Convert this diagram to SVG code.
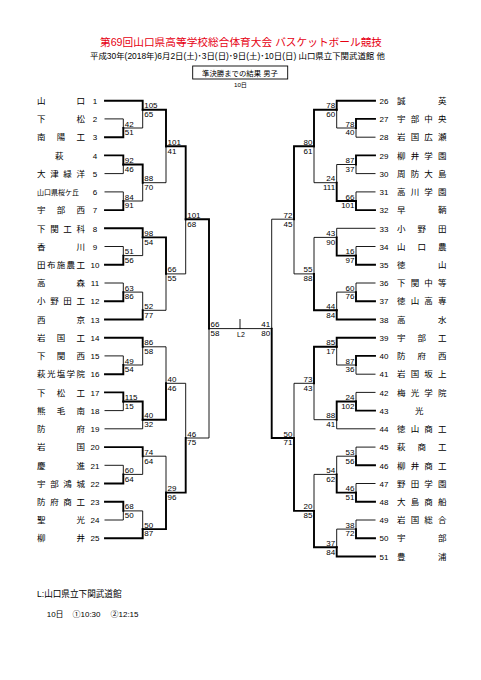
<svg xmlns="http://www.w3.org/2000/svg" width="481" height="680" viewBox="0 0 481 680">
<style>
.n{fill:none;stroke:#000;stroke-width:0.9;stroke-linecap:square}
.k{fill:none;stroke:#000;stroke-width:1.9;stroke-linecap:square}
text{font-family:"Liberation Sans","Noto Sans CJK JP",sans-serif;fill:#000}
.nm{font-size:8.5px}
.no{font-size:8px;text-anchor:middle}
.sl{font-size:8px}
.sr{font-size:8px;text-anchor:end}
.t{font-size:10.7px;fill:#e60012;text-anchor:middle}
</style>
<rect width="481" height="680" fill="#fff"/>
<g id="header">
<text class="t" x="241" y="46">第69回山口県高等学校総合体育大会 バスケットボール競技</text>
<text x="237.5" y="59" font-size="8.3" text-anchor="middle" textLength="295" lengthAdjust="spacingAndGlyphs">平成30年(2018年)6月2日(土)･3日(日)･9日(土)･10日(日) 山口県立下関武道館 他</text>
<rect x="192.7" y="66" width="95" height="13" fill="none" stroke="#000" stroke-width="0.9"/>
<text x="240" y="75.7" font-size="7.4" text-anchor="middle">準決勝までの結果 男子</text>
<text x="240.5" y="87" font-size="6.2" text-anchor="middle">10日</text>
</g>
<g id="teams-left">
<g id="t1"><text class="nm" x="37 76.5" y="103.9">山口</text><text class="no" x="95" y="103.9">1</text></g>
<g id="t2"><text class="nm" x="37 76.5" y="122.1">下松</text><text class="no" x="95" y="122.1">2</text></g>
<g id="t3"><text class="nm" x="37 56.75 76.5" y="140.4">南陽工</text><text class="no" x="95" y="140.4">3</text></g>
<g id="t4"><text class="nm" x="55" y="158.6">萩</text><text class="no" x="95" y="158.6">4</text></g>
<g id="t5"><text class="nm" x="37 50.2 63.3 76.5" y="176.8">大津緑洋</text><text class="no" x="95" y="176.8">5</text></g>
<g id="t6"><text x="37" y="194.6" font-size="7">山口県桜ケ丘</text><text class="no" x="95" y="195.1">6</text></g>
<g id="t7"><text class="nm" x="37 56.75 76.5" y="213.3">宇部西</text><text class="no" x="95" y="213.3">7</text></g>
<g id="t8"><text class="nm" x="37 50.2 63.3 76.5" y="231.5">下関工科</text><text class="no" x="95" y="231.5">8</text></g>
<g id="t9"><text class="nm" x="37 76.5" y="249.7">香川</text><text class="no" x="95" y="249.7">9</text></g>
<g id="t10"><text class="nm" x="37 46.9 56.75 66.6 76.5" y="268">田布施農工</text><text class="no" x="95" y="268">10</text></g>
<g id="t11"><text class="nm" x="37 76.5" y="286.2">高森</text><text class="no" x="95" y="286.2">11</text></g>
<g id="t12"><text class="nm" x="37 50.2 63.3 76.5" y="304.4">小野田工</text><text class="no" x="95" y="304.4">12</text></g>
<g id="t13"><text class="nm" x="37 76.5" y="322.7">西京</text><text class="no" x="95" y="322.7">13</text></g>
<g id="t14"><text class="nm" x="37 56.75 76.5" y="340.9">岩国工</text><text class="no" x="95" y="340.9">14</text></g>
<g id="t15"><text class="nm" x="37 56.75 76.5" y="359.1">下関西</text><text class="no" x="95" y="359.1">15</text></g>
<g id="t16"><text class="nm" x="37 46.9 56.75 66.6 76.5" y="377.4">萩光塩学院</text><text class="no" x="95" y="377.4">16</text></g>
<g id="t17"><text class="nm" x="37 56.75 76.5" y="395.6">下松工</text><text class="no" x="95" y="395.6">17</text></g>
<g id="t18"><text class="nm" x="37 56.75 76.5" y="413.8">熊毛南</text><text class="no" x="95" y="413.8">18</text></g>
<g id="t19"><text class="nm" x="37 76.5" y="432">防府</text><text class="no" x="95" y="432">19</text></g>
<g id="t20"><text class="nm" x="37 76.5" y="450.3">岩国</text><text class="no" x="95" y="450.3">20</text></g>
<g id="t21"><text class="nm" x="37 76.5" y="468.5">慶進</text><text class="no" x="95" y="468.5">21</text></g>
<g id="t22"><text class="nm" x="37 50.2 63.3 76.5" y="486.7">宇部鴻城</text><text class="no" x="95" y="486.7">22</text></g>
<g id="t23"><text class="nm" x="37 50.2 63.3 76.5" y="505">防府商工</text><text class="no" x="95" y="505">23</text></g>
<g id="t24"><text class="nm" x="37 76.5" y="523.2">聖光</text><text class="no" x="95" y="523.2">24</text></g>
<g id="t25"><text class="nm" x="37 76.5" y="541.4">柳井</text><text class="no" x="95" y="541.4">25</text></g>
</g>
<g id="teams-right">
<g id="t26"><text class="no" x="384" y="103.9">26</text><text class="nm" x="397 438" y="103.9">誠英</text></g>
<g id="t27"><text class="no" x="384" y="122.1">27</text><text class="nm" x="397 410.7 424.3 438" y="122.1">宇部中央</text></g>
<g id="t28"><text class="no" x="384" y="140.4">28</text><text class="nm" x="397 410.7 424.3 438" y="140.4">岩国広瀬</text></g>
<g id="t29"><text class="no" x="384" y="158.6">29</text><text class="nm" x="397 410.7 424.3 438" y="158.6">柳井学園</text></g>
<g id="t30"><text class="no" x="384" y="176.8">30</text><text class="nm" x="397 410.7 424.3 438" y="176.8">周防大島</text></g>
<g id="t31"><text class="no" x="384" y="195.1">31</text><text class="nm" x="397 410.7 424.3 438" y="195.1">高川学園</text></g>
<g id="t32"><text class="no" x="384" y="213.3">32</text><text class="nm" x="397 438" y="213.3">早鞆</text></g>
<g id="t33"><text class="no" x="384" y="231.5">33</text><text class="nm" x="397 417.5 438" y="231.5">小野田</text></g>
<g id="t34"><text class="no" x="384" y="249.7">34</text><text class="nm" x="397 417.5 438" y="249.7">山口農</text></g>
<g id="t35"><text class="no" x="384" y="268">35</text><text class="nm" x="397 438" y="268">徳山</text></g>
<g id="t36"><text class="no" x="384" y="286.2">36</text><text class="nm" x="397 410.7 424.3 438" y="286.2">下関中等</text></g>
<g id="t37"><text class="no" x="384" y="304.4">37</text><text class="nm" x="397 410.7 424.3 438" y="304.4">徳山高専</text></g>
<g id="t38"><text class="no" x="384" y="322.7">38</text><text class="nm" x="397 438" y="322.7">高水</text></g>
<g id="t39"><text class="no" x="384" y="340.9">39</text><text class="nm" x="397 417.5 438" y="340.9">宇部工</text></g>
<g id="t40"><text class="no" x="384" y="359.1">40</text><text class="nm" x="397 417.5 438" y="359.1">防府西</text></g>
<g id="t41"><text class="no" x="384" y="377.4">41</text><text class="nm" x="397 410.7 424.3 438" y="377.4">岩国坂上</text></g>
<g id="t42"><text class="no" x="384" y="395.6">42</text><text class="nm" x="397 410.7 424.3 438" y="395.6">梅光学院</text></g>
<g id="t43"><text class="no" x="384" y="413.8">43</text><text class="nm" x="415" y="413.8">光</text></g>
<g id="t44"><text class="no" x="384" y="432">44</text><text class="nm" x="397 410.7 424.3 438" y="432">徳山商工</text></g>
<g id="t45"><text class="no" x="384" y="450.3">45</text><text class="nm" x="397 417.5 438" y="450.3">萩商工</text></g>
<g id="t46"><text class="no" x="384" y="468.5">46</text><text class="nm" x="397 410.7 424.3 438" y="468.5">柳井商工</text></g>
<g id="t47"><text class="no" x="384" y="486.7">47</text><text class="nm" x="397 410.7 424.3 438" y="486.7">野田学園</text></g>
<g id="t48"><text class="no" x="384" y="505">48</text><text class="nm" x="397 410.7 424.3 438" y="505">大島商船</text></g>
<g id="t49"><text class="no" x="384" y="523.2">49</text><text class="nm" x="397 410.7 424.3 438" y="523.2">岩国総合</text></g>
<g id="t50"><text class="no" x="384" y="541.4">50</text><text class="nm" x="397 438" y="541.4">宇部</text></g>
<g id="t51"><text class="no" x="384" y="559.7">51</text><text class="nm" x="397 438" y="559.7">豊浦</text></g>
</g>
<g id="connectors">
<path class="n" d="M105 118.9H123.3V128"/><path class="k" d="M105 137.2H123.3V128"/>
<path class="n" d="M123.3 128H142.7V109.8"/><path class="k" d="M105 100.7H142.7V109.8"/>
<path class="n" d="M105 173.6H123.3V164.5"/><path class="k" d="M105 155.4H123.3V164.5"/>
<path class="n" d="M105 191.9H123.3V201"/><path class="k" d="M105 210.1H123.3V201"/>
<path class="n" d="M123.3 201H142.7V182.7"/><path class="k" d="M123.3 164.5H142.7V182.7"/>
<path class="n" d="M142.7 182.7H166V146.3"/><path class="k" d="M142.7 109.8H166V146.3"/>
<path class="n" d="M105 246.5H123.3V255.6"/><path class="k" d="M105 264.8H123.3V255.6"/>
<path class="n" d="M123.3 255.6H142.7V237.4"/><path class="k" d="M105 228.3H142.7V237.4"/>
<path class="n" d="M105 283H123.3V292.1"/><path class="k" d="M105 301.2H123.3V292.1"/>
<path class="n" d="M123.3 292.1H142.7V310.3"/><path class="k" d="M105 319.5H142.7V310.3"/>
<path class="n" d="M142.7 310.3H166V273.9"/><path class="k" d="M142.7 237.4H166V273.9"/>
<path class="n" d="M166 273.9H185.7V219.2"/><path class="k" d="M166 146.3H185.7V219.2"/>
<path class="n" d="M105 355.9H123.3V365"/><path class="k" d="M105 374.2H123.3V365"/>
<path class="n" d="M123.3 365H142.7V346.8"/><path class="k" d="M105 337.7H142.7V346.8"/>
<path class="n" d="M105 410.6H123.3V401.5"/><path class="k" d="M105 392.4H123.3V401.5"/>
<path class="n" d="M105 428.8H142.7V419.7"/><path class="k" d="M123.3 401.5H142.7V419.7"/>
<path class="n" d="M142.7 346.8H166V383.3"/><path class="k" d="M142.7 419.7H166V383.3"/>
<path class="n" d="M105 465.3H123.3V474.4"/><path class="k" d="M105 483.5H123.3V474.4"/>
<path class="n" d="M123.3 474.4H142.7V456.2"/><path class="k" d="M105 447.1H142.7V456.2"/>
<path class="n" d="M105 520H123.3V510.9"/><path class="k" d="M105 501.8H123.3V510.9"/>
<path class="n" d="M123.3 510.9H142.7V529.1"/><path class="k" d="M105 538.2H142.7V529.1"/>
<path class="n" d="M142.7 456.2H166V492.6"/><path class="k" d="M142.7 529.1H166V492.6"/>
<path class="n" d="M166 383.3H185.7V438"/><path class="k" d="M166 492.6H185.7V438"/>
<path class="n" d="M185.7 438H209V328.6"/><path class="k" d="M185.7 219.2H209V328.6"/>
<path class="n" d="M209 328.6H271.7M240 319.5V328.6"/>
<path class="n" d="M375 137.2H356V128"/><path class="k" d="M375 118.9H356V128"/>
<path class="n" d="M356 128H336.7V109.8"/><path class="k" d="M375 100.7H336.7V109.8"/>
<path class="n" d="M375 173.6H356V164.5"/><path class="k" d="M375 155.4H356V164.5"/>
<path class="n" d="M375 191.9H356V201"/><path class="k" d="M375 210.1H356V201"/>
<path class="n" d="M356 164.5H336.7V182.7"/><path class="k" d="M356 201H336.7V182.7"/>
<path class="n" d="M336.7 182.7H314V146.3"/><path class="k" d="M336.7 109.8H314V146.3"/>
<path class="n" d="M375 246.5H356V255.6"/><path class="k" d="M375 264.8H356V255.6"/>
<path class="n" d="M375 228.3H336.7V237.4"/><path class="k" d="M356 255.6H336.7V237.4"/>
<path class="n" d="M375 283H356V292.1"/><path class="k" d="M375 301.2H356V292.1"/>
<path class="n" d="M356 292.1H336.7V310.3"/><path class="k" d="M375 319.5H336.7V310.3"/>
<path class="n" d="M336.7 237.4H314V273.9"/><path class="k" d="M336.7 310.3H314V273.9"/>
<path class="n" d="M314 273.9H294V219.2"/><path class="k" d="M314 146.3H294V219.2"/>
<path class="n" d="M375 374.2H356V365"/><path class="k" d="M375 355.9H356V365"/>
<path class="n" d="M356 365H336.7V346.8"/><path class="k" d="M375 337.7H336.7V346.8"/>
<path class="n" d="M375 392.4H356V401.5"/><path class="k" d="M375 410.6H356V401.5"/>
<path class="n" d="M375 428.8H336.7V419.7"/><path class="k" d="M356 401.5H336.7V419.7"/>
<path class="n" d="M336.7 419.7H314V383.3"/><path class="k" d="M336.7 346.8H314V383.3"/>
<path class="n" d="M375 447.1H356V456.2"/><path class="k" d="M375 465.3H356V456.2"/>
<path class="n" d="M375 483.5H356V492.6"/><path class="k" d="M375 501.8H356V492.6"/>
<path class="n" d="M356 456.2H336.7V474.4"/><path class="k" d="M356 492.6H336.7V474.4"/>
<path class="n" d="M375 520H356V529.1"/><path class="k" d="M375 538.2H356V529.1"/>
<path class="n" d="M356 529.1H336.7V547.3"/><path class="k" d="M375 556.5H336.7V547.3"/>
<path class="n" d="M336.7 474.4H314V510.9"/><path class="k" d="M336.7 547.3H314V510.9"/>
<path class="n" d="M314 383.3H294V438"/><path class="k" d="M314 510.9H294V438"/>
<path class="n" d="M294 219.2H271.7V328.6"/><path class="k" d="M294 438H271.7V328.6"/>
</g>
<g id="scores-left" class="sl">
<text class="sl" x="124.8" y="126.5">42</text><text class="sl" x="124.8" y="135.3">51</text>
<text class="sl" x="144.2" y="108.3">105</text><text class="sl" x="144.2" y="117.1">65</text>
<text class="sl" x="124.8" y="163">92</text><text class="sl" x="124.8" y="171.8">46</text>
<text class="sl" x="124.8" y="199.5">84</text><text class="sl" x="124.8" y="208.3">91</text>
<text class="sl" x="144.2" y="181.2">88</text><text class="sl" x="144.2" y="190">70</text>
<text class="sl" x="167.5" y="144.8">101</text><text class="sl" x="167.5" y="153.6">41</text>
<text class="sl" x="124.8" y="254.1">51</text><text class="sl" x="124.8" y="262.9">56</text>
<text class="sl" x="144.2" y="235.9">98</text><text class="sl" x="144.2" y="244.7">54</text>
<text class="sl" x="124.8" y="290.6">63</text><text class="sl" x="124.8" y="299.4">86</text>
<text class="sl" x="144.2" y="308.8">52</text><text class="sl" x="144.2" y="317.6">77</text>
<text class="sl" x="167.5" y="272.4">66</text><text class="sl" x="167.5" y="281.2">55</text>
<text class="sl" x="187.2" y="217.7">101</text><text class="sl" x="187.2" y="226.5">68</text>
<text class="sl" x="124.8" y="363.5">49</text><text class="sl" x="124.8" y="372.3">54</text>
<text class="sl" x="144.2" y="345.3">86</text><text class="sl" x="144.2" y="354.1">58</text>
<text class="sl" x="124.8" y="400">115</text><text class="sl" x="124.8" y="408.8">15</text>
<text class="sl" x="144.2" y="418.2">40</text><text class="sl" x="144.2" y="427">32</text>
<text class="sl" x="167.5" y="381.8">40</text><text class="sl" x="167.5" y="390.6">46</text>
<text class="sl" x="124.8" y="472.9">60</text><text class="sl" x="124.8" y="481.7">64</text>
<text class="sl" x="144.2" y="454.7">74</text><text class="sl" x="144.2" y="463.5">64</text>
<text class="sl" x="124.8" y="509.4">68</text><text class="sl" x="124.8" y="518.2">50</text>
<text class="sl" x="144.2" y="527.6">50</text><text class="sl" x="144.2" y="536.4">87</text>
<text class="sl" x="167.5" y="491.1">29</text><text class="sl" x="167.5" y="499.9">96</text>
<text class="sl" x="187.2" y="436.5">46</text><text class="sl" x="187.2" y="445.3">75</text>
<text class="sl" x="210.5" y="327.1">66</text><text class="sl" x="210.5" y="335.9">58</text>
</g>
<g id="scores-right">
<text class="sr" x="354.5" y="126.5">78</text><text class="sr" x="354.5" y="135.3">40</text>
<text class="sr" x="335.2" y="108.3">78</text><text class="sr" x="335.2" y="117.1">60</text>
<text class="sr" x="354.5" y="163">87</text><text class="sr" x="354.5" y="171.8">37</text>
<text class="sr" x="354.5" y="199.5">66</text><text class="sr" x="354.5" y="208.3">101</text>
<text class="sr" x="335.2" y="181.2">24</text><text class="sr" x="335.2" y="190">111</text>
<text class="sr" x="312.5" y="144.8">80</text><text class="sr" x="312.5" y="153.6">61</text>
<text class="sr" x="354.5" y="254.1">16</text><text class="sr" x="354.5" y="262.9">97</text>
<text class="sr" x="335.2" y="235.9">43</text><text class="sr" x="335.2" y="244.7">90</text>
<text class="sr" x="354.5" y="290.6">60</text><text class="sr" x="354.5" y="299.4">76</text>
<text class="sr" x="335.2" y="308.8">44</text><text class="sr" x="335.2" y="317.6">84</text>
<text class="sr" x="312.5" y="272.4">55</text><text class="sr" x="312.5" y="281.2">88</text>
<text class="sr" x="292.5" y="217.7">72</text><text class="sr" x="292.5" y="226.5">45</text>
<text class="sr" x="354.5" y="363.5">87</text><text class="sr" x="354.5" y="372.3">36</text>
<text class="sr" x="335.2" y="345.3">85</text><text class="sr" x="335.2" y="354.1">17</text>
<text class="sr" x="354.5" y="400">24</text><text class="sr" x="354.5" y="408.8">102</text>
<text class="sr" x="335.2" y="418.2">88</text><text class="sr" x="335.2" y="427">41</text>
<text class="sr" x="312.5" y="381.8">73</text><text class="sr" x="312.5" y="390.6">43</text>
<text class="sr" x="354.5" y="454.7">53</text><text class="sr" x="354.5" y="463.5">56</text>
<text class="sr" x="354.5" y="491.1">46</text><text class="sr" x="354.5" y="499.9">51</text>
<text class="sr" x="335.2" y="472.9">54</text><text class="sr" x="335.2" y="481.7">62</text>
<text class="sr" x="354.5" y="527.6">38</text><text class="sr" x="354.5" y="536.4">72</text>
<text class="sr" x="335.2" y="545.8">37</text><text class="sr" x="335.2" y="554.6">84</text>
<text class="sr" x="312.5" y="509.4">20</text><text class="sr" x="312.5" y="518.2">85</text>
<text class="sr" x="292.5" y="436.5">50</text><text class="sr" x="292.5" y="445.3">71</text>
<text class="sr" x="270.2" y="327.1">41</text><text class="sr" x="270.2" y="335.9">80</text>
</g>
<g id="venue">
<text x="241" y="337" font-size="7" text-anchor="middle">L2</text>
<text x="37" y="596.5" font-size="8.6">L:山口県立下関武道館</text>
<text y="617" font-size="8"><tspan x="46.7">10日</tspan><tspan x="72.5">①10:30</tspan><tspan x="110.5">②12:15</tspan></text>
</g>
</svg>
